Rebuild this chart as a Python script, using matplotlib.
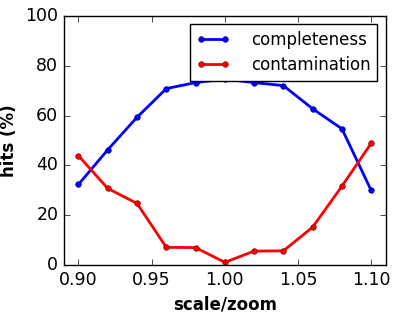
import matplotlib
matplotlib.use('Agg')
import matplotlib.pyplot as plt

plt.style.use('classic')

scale = [0.90, 0.92, 0.94, 0.96, 0.98, 1.00, 1.02, 1.04, 1.06, 1.08, 1.10]
completeness = [32.4, 46.3, 59.3, 70.8, 73.2, 74.6, 73.2, 72.0, 62.7, 54.7, 30.0]
contamination = [43.9, 30.8, 24.8, 7.2, 7.1, 1.2, 5.7, 5.8, 15.3, 31.7, 48.9]

fig = plt.figure(figsize=(3.99, 3.14), dpi=100)
fig.patch.set_facecolor('white')
ax = fig.add_axes([0.160, 0.155, 0.807, 0.795])

ax.plot(scale, completeness, color='b', marker='o', markersize=4,
        markeredgecolor='navy', markeredgewidth=0.5, linewidth=2,
        label='completeness')
ax.plot(scale, contamination, color='r', marker='o', markersize=4,
        markeredgecolor='darkred', markeredgewidth=0.5, linewidth=2,
        label='contamination')

ax.set_xlim(0.89, 1.11)
ax.set_ylim(0, 100)
ax.set_xticks([0.90, 0.95, 1.00, 1.05, 1.10])
ax.set_xticklabels(['0.90', '0.95', '1.00', '1.05', '1.10'])
ax.tick_params(labelsize=12.5)
ax.set_xlabel('scale/zoom', fontsize=12, fontweight='bold')
ax.set_ylabel('hits (%)', fontsize=12, fontweight='bold')
ax.legend(loc='upper right', fontsize=12, numpoints=2,
          handletextpad=1.3, borderaxespad=0.5, labelspacing=0.45)

fig.savefig('out.png', dpi=100, facecolor='white')
